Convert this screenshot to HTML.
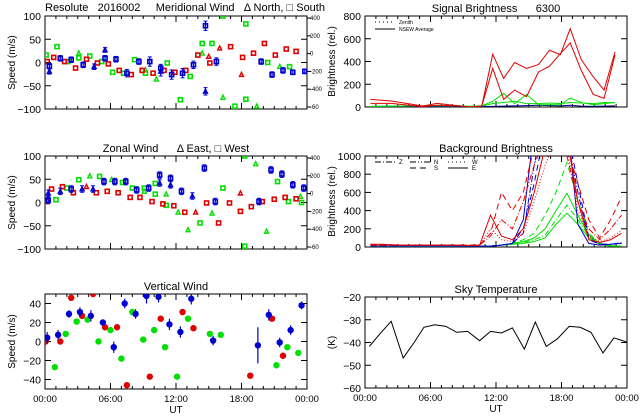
<!DOCTYPE html>
<html><head><meta charset="utf-8"><style>
body{margin:0;background:#fff;}
svg{display:block;font-family:"Liberation Sans",sans-serif;}
text{white-space:pre;}
</style></head><body>
<svg id="c" width="640" height="420" viewBox="0 0 640 420"></svg>
<script>
// ---- data ----
const merGreenH=[0.1,1.1,2.1,3.1,4.1,5.2,6.2,7.2,8.2,9.2,10.2,11.2,12.4,13.3,14.4,15.3,16.3,17.4,18.4,18.4,19.4,20.4,21.5,22.4,14.4,16.3,9.2,3.1];
const merGreenV=[16,34,2,20,14,2,-21,-23,6,-23,-36,-1,-80,-30,41,41,100,-94,83,-79,-94,0,-9,-9,20,-75,-16,10];
const merGreenM=['s','s','s','t','s','s','s','s','s','s','t','s','s','s','s','s','s','s','s','s','t','s','t','s','t','t','t','s'];
const merRedH=[0.2,0.8,1.8,2.8,3.8,4.8,5.8,6.8,7.9,8.9,9.9,10.9,11.9,12.9,14.0,15.0,15.1,16.0,17.0,18.0,18.1,19.1,20.1,21.1,22.1,23.0];
const merRedV=[2,11,2,-12,7,-1,-3,-17,-26,-17,-23,-17,-21,-17,16,13,-1,31,34,-26,11,20,41,16,29,24];
const merRedM=['s','s','s','s','s','s','s','s','s','s','s','s','s','s','s','t','s','t','s','t','s','s','s','s','s','s'];
const merBlueH=[0.4,0.4,1.4,2.4,3.5,4.5,5.5,5.5,6.5,7.5,8.6,9.6,10.6,10.6,11.6,12.6,13.6,14.7,14.7,15.7,19.8,20.8,21.8,22.7,23.8];
const merBlueV=[-8,-19,9,6,-5,-9,27,9,7,-23,2,2,-12,-19,-26,-23,-5,79,-62,2,2,-26,-17,-21,-19];
const merBlueM=['s','t','s','s','s','t','t','s','s','s','s','s','s','t','s','s','s','s','t','s','s','s','s','s','s'];
const merBlueE=[6,6,6,6,6,6,5,6,6,8,6,10,8,10,10,10,8,10,8,8,6,6,6,5,5];

const zonGreenH=[1.0,2.0,3.1,4.1,5.0,6.1,7.1,8.0,9.1,10.1,11.1,12.2,13.1,14.2,15.3,16.3,18.3,18.3,19.3,20.3,21.3,22.3,23.4,23.5,9.1,10.1,11.1];
const zonGreenV=[6,31,49,57,56,49,43,31,31,41,18,-21,-59,-44,-23,31,100,-94,83,-62,45,2,13,0,24,18,-6];
const zonGreenM=['s','s','s','t','s','t','s','s','s','s','t','t','t','s','t','s','s','s','t','t','s','s','t','s','t','s','s'];
const zonRedH=[0.2,0.6,1.6,2.6,3.8,4.7,5.7,6.7,7.8,8.7,9.8,10.8,11.8,12.8,13.8,14.8,15.9,17.9,17.9,18.9,19.9,21.0,22.0,23.0,16.9];
const zonRedV=[2,29,34,21,34,21,24,21,11,11,2,-3,-7,-21,-21,-1,-44,20,-19,-9,2,7,11,8,-1];
const zonRedM=['s','s','s','s','t','s','s','s','s','s','s','s','s','s','t','s','s','t','s','s','s','s','s','s','s'];
const zonBlueH=[0.3,1.4,2.4,3.4,4.4,5.4,6.4,7.4,8.4,9.5,10.5,11.5,12.5,13.5,14.6,15.6,19.6,20.7,21.7,22.7,23.7,0.3,10.5,11.5];
const zonBlueV=[20,24,29,29,29,45,45,45,27,31,59,52,24,14,74,2,2,70,61,38,31,5,42,38];
const zonBlueM=['t','t','s','t','t','s','s','s','s','s','s','s','s','t','s','s','s','s','s','s','s','s','t','t'];

const vertBlueH=[0.2,1.2,2.2,3.2,4.2,5.3,6.3,7.3,8.3,9.3,10.4,11.4,12.4,13.4,15.4,19.5,20.5,21.5,22.5,23.5];
const vertBlueV=[4,7,29,31,27,20,-6,40,29,48,47,18,10,45,1,-4,28,-1,12,38];
const vertBlueE=[6,5,4,5,6,3,6,5,5,8,6,6,6,6,5,19,6,5,5,4];
const vertRedH=[0.06,1.4,2.4,3.4,4.4,5.5,6.6,7.5,9.6,10.6,12.6,13.6,18.8,20.8,21.8];
const vertRedV=[0,0,46,27,50,15,15,-46,-37,24,31,14,-36,24,-15];
const vertGreenH=[0.9,1.9,2.9,3.9,4.9,6.0,7.0,8.0,9.0,10.0,11.0,12.1,13.1,15.1,16.1,21.2,22.2,23.2];
const vertGreenV=[-27,8,21,23,0,12,-18,31,2,12,-6,-37,24,8,7,-25,-6,-12];

const skyH=[0.4,1.4,2.4,3.5,4.5,5.4,6.4,7.4,8.4,9.4,10.5,11.5,12.5,13.5,14.6,15.6,16.6,17.6,18.7,19.7,20.7,21.8,22.8,23.8,24];
const skyV=[-41.7,-36,-30.7,-46.8,-40,-33.3,-32.2,-32.9,-35.5,-35.1,-39.2,-35.1,-35.8,-33.6,-42.9,-31,-41.7,-38.5,-32.9,-33.3,-35.5,-44.6,-38,-39.5,-40];

const sigH=[0.5,2.4,5.3,6.6,8.7,9.6,10.7,11.7,12.7,13.7,14.8,15.9,16.9,17.9,18.8,19.8,20.9,21.9,22.9];
const sigRed1=[67,53,9,32,9,0,9,464,251,391,339,374,499,461,689,418,266,149,485];
const sigRed2=[32,32,3,15,9,0,9,339,67,149,91,309,359,470,563,324,111,76,456];
const sigGreen1=[5,8,10,15,10,5,10,50,120,30,110,20,20,20,80,40,20,30,40];
const sigGreen2=[5,8,10,12,10,5,10,30,40,50,30,30,35,30,40,35,30,40,38];
const sigBlue1=[0,2,3,3,3,2,3,5,8,10,12,15,12,10,15,8,5,8,10];

const bgH=[0.5,1.5,2.5,3.5,4.5,5.5,6.5,7.5,8.5,9.5,10.5,11.5,12.5,13.5,14.5,15.5,16.5,17.5,18.5,19.5,20.5,21.5,22.5,23.5];
const bgBlueE=[10,10,10,10,10,10,10,10,10,10,10,10,20,40,300,1300,1600,1500,1400,250,40,20,30,40];
const bgBlueZ=[10,10,10,10,10,10,10,10,10,10,10,10,20,40,150,900,1500,1500,1200,600,80,30,30,50];
const bgBlueN=[10,10,10,10,10,10,10,10,10,10,10,10,20,40,200,700,1300,1500,1300,700,100,30,30,40];
const bgRedE=[30,30,25,20,20,20,20,20,20,15,20,350,120,80,200,600,1100,1300,1200,500,80,50,80,150];
const bgRedZ=[20,20,20,20,20,20,20,20,20,15,20,200,80,60,150,500,900,1200,1100,400,120,60,100,180];
const bgRedS=[20,20,20,20,20,20,20,20,20,20,20,150,600,400,600,1100,1300,1200,1100,700,300,100,300,550];
const bgRedW=[20,20,20,20,20,20,20,20,20,20,20,120,300,200,500,900,1200,1300,1000,500,200,80,200,350];
const bgGreen1=[5,5,5,5,5,5,5,5,10,10,10,10,20,30,40,60,100,250,370,250,100,30,10,10];
const bgGreen2=[5,5,5,5,5,5,5,5,10,10,10,10,20,30,50,80,130,300,460,300,120,30,10,10];
const bgGreen3=[5,5,5,5,5,5,5,5,10,10,10,10,20,40,60,100,200,400,590,350,130,40,15,10];
const bgGreen4=[5,5,5,5,5,5,5,5,10,10,10,10,20,40,80,150,350,600,930,500,150,40,15,10];

// ---- helpers ----
const S=document.getElementById('c');const NS='http://www.w3.org/2000/svg';
function mk(t,a,p){const e=document.createElementNS(NS,t);for(const k in a)e.setAttribute(k,a[k]);(p||S).appendChild(e);return e;}
function txt(x,y,s,sz,anc,p,rot){const e=mk('text',{x:x,y:y,'font-size':sz,'text-anchor':anc||'middle',fill:'#000'},p);if(rot)e.setAttribute('transform','rotate(-90 '+x+' '+y+')');e.textContent=s;return e;}

function panel(name,x0,y0,w,h,ymin,ymax,yt,title,ytitle,xlabels){
  const g=mk('g',{});
  
  
  const sx=v=>x0+v/24*w, sy=v=>y0+h-(v-ymin)/(ymax-ymin)*h;
  const cp='cp'+name;const d=mk('clipPath',{id:cp},g);mk('rect',{x:x0,y:y0,width:w,height:h},d);
  const box=mk('rect',{x:x0,y:y0,width:w,height:h,fill:'none',stroke:'#000','stroke-width':1},g);
  
  
  for(let i=0;i<=24;i++){const L=i%6==0?6:3;mk('line',{x1:sx(i),x2:sx(i),y1:y0+h,y2:y0+h-L,stroke:'#000'},g);mk('line',{x1:sx(i),x2:sx(i),y1:y0,y2:y0+L,stroke:'#000'},g);}
  yt.forEach(v=>{mk('line',{x1:x0,x2:x0+6,y1:sy(v),y2:sy(v),stroke:'#000'},g);mk('line',{x1:x0+w,x2:x0+w-6,y1:sy(v),y2:sy(v),stroke:'#000'},g);
    const t=txt(x0-4,sy(v)+4,String(v).replace('-','\u2212'),10.5,'end',g);});
  const tt=txt(x0+w/2,y0-4,title,11,'middle',g);
  const yl=txt(x0-30,y0+h/2,ytitle,10,'middle',g,true);
  if(xlabels){['00:00','06:00','12:00','18:00','00:00'].forEach((s,i)=>{const t=txt(sx(i*6),y0+h+13,s,9.5,'middle',g);});
    const u=txt(x0+w/2,y0+h+24,'UT',10,'middle',g);}
  const pg=mk('g',{'clip-path':'url(#'+cp+')'},g);
  return {sx,sy,g,pg};
}
function rightAxis(P,x0,y0,h){
  const vals=[400,200,0,-200,-400,-600];
  vals.forEach(v=>{const y=y0+2+(400-v)/1000*(h-4);mk('line',{x1:x0,x2:x0+4,y1:y,y2:y,stroke:'#000'},P.g);
    const t=txt(x0+3,y+2,v==-600?'-60':String(v),6,'start',P.g);});
}
function wind(P,H,V,M,col,E){
  H.forEach((hh,i)=>{const x=P.sx(hh),y=P.sy(V[i]);
    if(E){const e=mk('line',{x1:x,x2:x,y1:P.sy(V[i]+E[i]),y2:P.sy(V[i]-E[i]),stroke:col,'stroke-width':1.2},P.pg);
      mk('line',{x1:x-2,x2:x+2,y1:P.sy(V[i]+E[i]),y2:P.sy(V[i]+E[i]),stroke:col},P.pg);mk('line',{x1:x-2,x2:x+2,y1:P.sy(V[i]-E[i]),y2:P.sy(V[i]-E[i]),stroke:col},P.pg);}
    let m;
    if(M[i]=='s'){m=mk('rect',{x:x-2,y:y-2,width:4,height:4,fill:'none',stroke:col,'stroke-width':1.6},P.pg);}
    else{m=mk('polygon',{points:(x)+','+(y-2.2)+' '+(x-2)+','+(y+1.8)+' '+(x+2)+','+(y+1.8),fill:'none',stroke:col,'stroke-width':1.4},P.pg);}
    
    
  });
}
function dots(P,H,V,col,E){
  H.forEach((hh,i)=>{const x=P.sx(hh),y=P.sy(V[i]);
    if(E){mk('line',{x1:x,x2:x,y1:P.sy(V[i]+E[i]),y2:P.sy(V[i]-E[i]),stroke:col,'stroke-width':1.2},P.pg);}
    const c=mk('circle',{cx:x,cy:y,r:3.2,fill:col},P.pg);
    
    });
}
function line(P,H,V,col,dash,name){
  const p=mk('polyline',{points:H.map((hh,i)=>P.sx(hh)+','+P.sy(V[i])).join(' '),fill:'none',stroke:col,'stroke-width':1,'stroke-dasharray':dash||'none'},P.pg);
  
  
}
const R='#e00000',G='#00e000',B='#0000d0';

// Meridional
let P=panel('meridional-wind-panel',45,16,262,93,-100,100,[100,50,0,-50,-100],'','Speed (m/s)',false);
rightAxis(P,307,16,93);
wind(P,merGreenH,merGreenV,merGreenM,G);wind(P,merRedH,merRedV,merRedM,R);wind(P,merBlueH,merBlueV,merBlueM,B,merBlueE);
let t=txt(45,11,'Resolute   2016002     Meridional Wind   \u0394 North, \u25A1 South',11,'start');

// Zonal
P=panel('zonal-wind-panel',45,156,262,93,-100,100,[100,50,0,-50,-100],'Zonal Wind      \u0394 East, \u25A1 West','Speed (m/s)',false);
rightAxis(P,307,156,93);
wind(P,zonGreenH,zonGreenV,zonGreenM,G);wind(P,zonRedH,zonRedV,zonRedM,R);wind(P,zonBlueH,zonBlueV,zonBlueM,B,zonBlueH.map(()=>7));

// Vertical
P=panel('vertical-wind-panel',45,294,262,95,-50,50,[40,20,0,-20,-40],'Vertical Wind','Speed (m/s)',true);
dots(P,vertGreenH,vertGreenV,G,vertGreenH.map(()=>3));dots(P,vertRedH,vertRedV,R,vertRedH.map(()=>3));dots(P,vertBlueH,vertBlueV,B,vertBlueE);

// Signal
P=panel('signal-brightness-panel',365,16,262,91,0,800,[800,600,400,200,0],'Signal Brightness      6300','Brightness (rel.)',false);
line(P,sigH,sigBlue1,'#000080',null,'signal-blue');line(P,sigH,sigGreen2,G,null,'signal-green-avg');line(P,sigH,sigGreen1,G,null,'signal-green');
line(P,sigH,sigRed2,R,null,'signal-red-avg');line(P,sigH,sigRed1,R,null,'signal-red');
mk('line',{x1:375,x2:395,y1:22,y2:22,stroke:'#000','stroke-dasharray':'1 3'});mk('line',{x1:375,x2:395,y1:29,y2:29,stroke:'#000'});
t=txt(399,24,'Zenith',5,'start');
t=txt(399,31,'NSEW Average',5,'start');

// Background
P=panel('background-brightness-panel',365,156,262,91,0,1000,[1000,800,600,400,200,0],'Background Brightness','Brightness (rel.)',false);
line(P,bgH,bgGreen1,G,null,'bg-green-e');line(P,bgH,bgGreen2,G,'6 2 1 2','bg-green-z');line(P,bgH,bgGreen3,G,null,'bg-green-n');line(P,bgH,bgGreen4,G,'6 4','bg-green-s');
line(P,bgH,bgBlueE,B,null,'bg-blue-e');line(P,bgH,bgBlueZ,B,'6 2 1 2','bg-blue-z');line(P,bgH,bgBlueN,B,'6 4','bg-blue-n');
line(P,bgH,bgRedE,R,null,'bg-red-e');line(P,bgH,bgRedZ,R,'1 2','bg-red-z');line(P,bgH,bgRedS,R,'6 4','bg-red-s');line(P,bgH,bgRedW,R,'6 2 1 2','bg-red-w');
[[375,162,'6 2 1 2','Z'],[410,162,'6 2 1 2 1 2','N'],[410,168,'6 4','S'],[448,162,'1 3','W'],[448,168,'none','E']].forEach(a=>{
  mk('line',{x1:a[0],x2:a[0]+20,y1:a[1],y2:a[1],stroke:'#000','stroke-dasharray':a[2]});
  const l=txt(a[0]+24,a[1]+2,a[3],6,'start');});

// Sky temperature
P=panel('sky-temperature-panel',365,297,262,91,-60,-20,[-20,-30,-40,-50,-60],'Sky Temperature','(K)',true);
line(P,skyH,skyV,'#000',null,'sky-temperature-line');
</script>
</body></html>
